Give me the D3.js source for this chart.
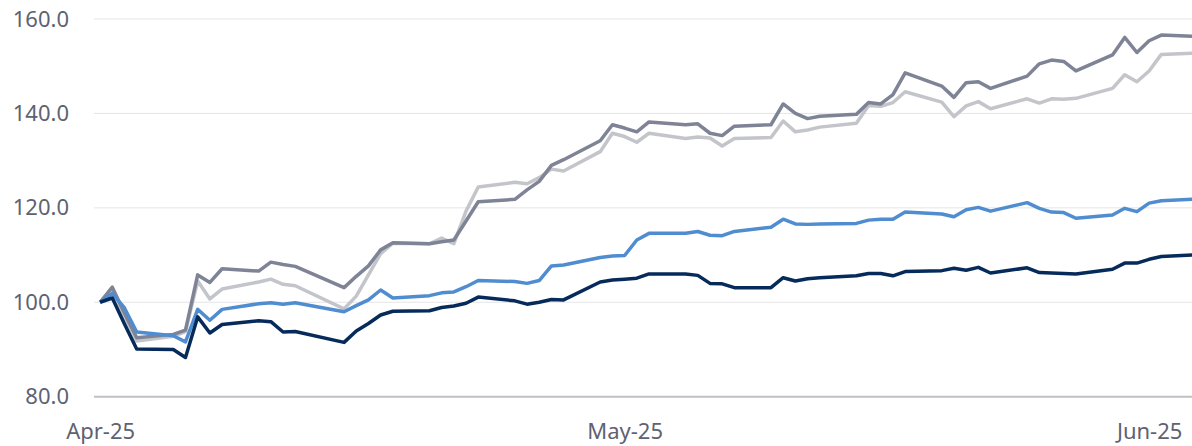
<!DOCTYPE html>
<html>
<head>
<meta charset="utf-8">
<script src="https://cdn.jsdelivr.net/npm/d3@7"></script>
<style>
  body { margin: 0; background: #fff; }
  .tick text { font-family: "Noto Sans", sans-serif; font-size: 22px; fill: #5d6272; }
</style>
</head>
<body>
<script>
// trading days shown on the chart
var dates = ["2025-04-01","2025-04-02","2025-04-03","2025-04-04","2025-04-07","2025-04-08","2025-04-09","2025-04-10","2025-04-11",
  "2025-04-14","2025-04-15","2025-04-16","2025-04-17","2025-04-21","2025-04-22","2025-04-23","2025-04-24","2025-04-25",
  "2025-04-28","2025-04-29","2025-04-30","2025-05-01","2025-05-02","2025-05-05","2025-05-06","2025-05-07","2025-05-08","2025-05-09",
  "2025-05-12","2025-05-13","2025-05-14","2025-05-15","2025-05-16","2025-05-19","2025-05-20","2025-05-21","2025-05-22","2025-05-23",
  "2025-05-26","2025-05-27","2025-05-28","2025-05-29","2025-05-30","2025-06-02","2025-06-03","2025-06-04","2025-06-05","2025-06-06",
  "2025-06-09","2025-06-10","2025-06-11","2025-06-12","2025-06-13","2025-06-16","2025-06-17","2025-06-18","2025-06-19","2025-06-20",
  "2025-06-23","2025-06-24","2025-06-25","2025-06-26","2025-06-27","2025-06-30"];

var seriesGrayDark = [100,103.2,97.7,92.5,93.2,94.1,105.8,104.2,107.1,106.6,108.5,108.0,107.6,103.1,105.5,107.7,111.1,112.6,
  112.4,112.8,113.2,117.2,121.3,121.8,123.8,125.6,129.0,130.2,134.2,137.6,136.9,136.1,138.2,137.6,137.8,135.8,135.3,137.3,
  137.6,142.0,140.0,138.9,139.4,139.8,142.3,142.0,144.0,148.6,145.8,143.4,146.5,146.7,145.3,147.9,150.5,151.3,151.0,149.0,
  152.4,156.1,152.9,155.4,156.6,156.3];
var seriesGrayLight = [100,102.6,97.0,91.8,92.8,93.8,104.5,100.7,102.8,104.3,104.9,103.8,103.5,98.6,101.3,105.8,110.3,112.5,
  112.4,113.6,112.4,119.3,124.4,125.4,125.1,126.4,128.2,127.8,131.9,135.8,135.1,133.9,135.8,134.7,135.0,134.8,133.1,134.7,
  134.9,138.4,136.1,136.5,137.1,137.9,141.7,141.5,142.3,144.6,142.4,139.3,141.6,142.5,141.0,143.1,142.2,143.1,143.0,143.2,
  145.3,148.2,146.7,149.0,152.5,152.8];
var seriesBlue = [100,101.9,98.8,93.7,92.9,91.6,98.5,96.2,98.5,99.7,99.9,99.6,99.9,98.0,99.3,100.5,102.6,100.9,
  101.4,102.0,102.2,103.3,104.6,104.4,104.0,104.6,107.7,107.9,109.5,109.8,109.9,113.2,114.6,114.6,115.0,114.2,114.1,115.0,
  115.9,117.6,116.6,116.5,116.6,116.7,117.4,117.6,117.6,119.1,118.7,118.1,119.6,120.1,119.3,121.1,119.9,119.1,119.0,117.8,
  118.5,119.9,119.2,121.0,121.5,121.9];
var seriesNavy = [100,100.9,95.4,90.1,90.0,88.3,96.9,93.5,95.3,96.1,95.9,93.7,93.8,91.5,93.9,95.5,97.3,98.1,
  98.2,98.9,99.2,99.8,101.1,100.3,99.6,100.0,100.6,100.5,104.3,104.7,104.9,105.1,106.0,106.0,105.7,104.0,103.9,103.1,
  103.1,105.2,104.5,105.0,105.2,105.6,106.1,106.1,105.6,106.5,106.7,107.2,106.8,107.4,106.2,107.3,106.3,106.2,106.1,106.0,
  107.0,108.3,108.3,109.1,109.7,110.1];

var yTicks = [80, 100, 120, 140, 160];
var xTickDates = ["2025-04-01", "2025-05-14", "2025-06-26"];

var series = [
  { values: seriesGrayLight, color: "#c3c5cb" },
  { values: seriesGrayDark, color: "#7e8396" },
  { values: seriesBlue, color: "#4f8dd0" },
  { values: seriesNavy, color: "#062b5b" }
];

var svgWidth = 1192;
var svgHeight = 446;
var parseDate = d3.utcParse("%Y-%m-%d");

var svg = d3.select("body")
  .append("svg")
  .attr("width", svgWidth)
  .attr("height", svgHeight);

// half a day of padding each side, like a date axis with points between ticks
var x = d3.scaleUtc()
  .domain([d3.utcHour.offset(parseDate("2025-04-01"), -12), d3.utcHour.offset(parseDate("2025-06-30"), 12)])
  .range([94, 1204]);

var y = d3.scaleLinear()
  .domain([80, 160])
  .range([396.7, 19]);

// gridlines
svg.append("g")
  .selectAll("line")
  .data(yTicks)
  .enter()
  .append("line")
  .attr("x1", 94)
  .attr("x2", svgWidth)
  .attr("y1", d => y(d))
  .attr("y2", d => y(d))
  .attr("stroke", d => d === 80 ? "#bfc1c7" : "#e6e6e8")
  .attr("stroke-width", d => d === 80 ? 2 : 1);

// y axis labels
var leftAxis = d3.axisLeft(y).tickValues(yTicks).tickFormat(d3.format(".1f")).tickSize(0).tickPadding(0);
svg.append("g")
  .attr("transform", "translate(69,0)")
  .call(leftAxis)
  .call(g => g.select(".domain").remove());

// x axis labels
var bottomAxis = d3.axisBottom(x)
  .tickValues(xTickDates.map(parseDate))
  .tickFormat(d3.utcFormat("%b-%y"))
  .tickSize(0)
  .tickPadding(0);
svg.append("g")
  .attr("transform", "translate(0,423)")
  .call(bottomAxis)
  .call(g => g.select(".domain").remove());

var line = d3.line()
  .x((d, i) => x(parseDate(dates[i])))
  .y(d => y(d));

svg.append("g")
  .selectAll("path")
  .data(series)
  .enter()
  .append("path")
  .attr("d", d => line(d.values))
  .attr("fill", "none")
  .attr("stroke", d => d.color)
  .attr("stroke-width", 3.5)
  .attr("stroke-linejoin", "round");
</script>
</body>
</html>
